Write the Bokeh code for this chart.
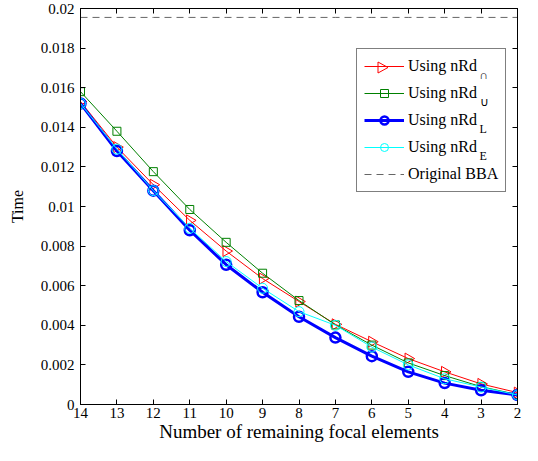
import numpy as np
from bokeh.plotting import figure
from bokeh.models import (Range1d, FixedTicker, CustomJSTickFormatter, LinearAxis,
                          Legend, LegendItem, Label, ColumnDataSource, PolyAnnotation)
from bokeh.embed import file_html
from bokeh.resources import INLINE

# ---- data ----
remaining = [14, 13, 12, 11, 10, 9, 8, 7, 6, 5, 4, 3, 2]
time_cap = [0.0153, 0.0130, 0.0111, 0.0093, 0.00775, 0.00636, 0.0052, 0.00405,
            0.00317, 0.00232, 0.00165, 0.00104, 0.0006]
time_cup = [0.0158, 0.0138, 0.01176, 0.00985, 0.00819, 0.00663, 0.00525, 0.00402,
            0.0030, 0.0021, 0.00146, 0.0009, 0.0005]
time_L = [0.0152, 0.0128, 0.0108, 0.0088, 0.00706, 0.00567, 0.00443, 0.00338,
          0.00244, 0.00165, 0.00108, 0.00072, 0.00048]
time_E = [0.0152, 0.0129, 0.0108, 0.0089, 0.00722, 0.00587, 0.00469, 0.0040,
          0.0029, 0.0020, 0.0013, 0.00088, 0.00048]
bba_time = 0.01955
x_ticks = [2, 3, 4, 5, 6, 7, 8, 9, 10, 11, 12, 13, 14]
y_ticks = [0, 0.002, 0.004, 0.006, 0.008, 0.01, 0.012, 0.014, 0.016, 0.018, 0.02]
labels = ["Using nRd", "Using nRd", "Using nRd", "Using nRd", "Original BBA"]
subs = ["\u2229", "\u222a", "L", "E"]

FONT = "Liberation Serif"

p = figure(width=522, height=445, output_backend="svg", toolbar_location=None,
           x_range=Range1d(14, 2), y_range=Range1d(0, 0.02),
           min_border_left=80, min_border_right=5, min_border_top=8,
           min_border_bottom=41)
p.xgrid.visible = False
p.ygrid.visible = False
p.outline_line_color = "black"
p.outline_line_alpha = 1.0
p.background_fill_color = "white"
p.border_fill_color = "white"

fmt = CustomJSTickFormatter(code="return String(Number(tick.toFixed(4)));")

def style_axis(ax):
    ax.major_tick_in = 5
    ax.major_tick_out = 0
    ax.minor_tick_in = 0
    ax.minor_tick_out = 0
    ax.axis_line_color = "black"
    ax.major_tick_line_color = "black"
    ax.major_label_text_font = FONT
    ax.major_label_text_font_size = "15px"
    ax.major_label_text_color = "black"
    ax.axis_label_text_font = FONT
    ax.axis_label_text_font_style = "normal"
    ax.axis_label_text_color = "black"

p.xaxis.ticker = FixedTicker(ticks=x_ticks)
p.yaxis.ticker = FixedTicker(ticks=y_ticks)
p.yaxis.formatter = fmt
style_axis(p.xaxis[0])
style_axis(p.yaxis[0])
p.xaxis.axis_label = "Number of remaining focal elements"
p.yaxis.axis_label = "Time"
p.xaxis.axis_label_text_font_size = "19px"
p.yaxis.axis_label_text_font_size = "16px"
p.xaxis.major_label_standoff = 3
p.xaxis.axis_label_standoff = 0
p.yaxis.major_label_standoff = 6
p.yaxis.axis_label_standoff = 12

empty = CustomJSTickFormatter(code="return '';")
top = LinearAxis(ticker=FixedTicker(ticks=x_ticks), formatter=empty)
right = LinearAxis(ticker=FixedTicker(ticks=y_ticks), formatter=empty)
for ax in (top, right):
    style_axis(ax)
    ax.major_label_standoff = 0
p.add_layout(top, "above")
p.add_layout(right, "right")

# ---- series ----
cap_src = ColumnDataSource(dict(x=remaining, y=time_cap,
                                ang=[-np.pi / 2] * len(remaining)))
r_cap_l = p.line("x", "y", source=cap_src, line_color="#ff0000", line_width=1)
r_cap_m = p.scatter("x", "y", source=cap_src, marker="triangle", angle="ang",
                    angle_units="rad", size=11,
                    line_color="#ff0000", fill_color=None, line_width=1)
r_cup_l = p.line(remaining, time_cup, line_color="#008000", line_width=1)
r_cup_m = p.scatter(remaining, time_cup, marker="square", size=8,
                    line_color="#008000", fill_color=None, line_width=1)
r_L_l = p.line(remaining, time_L, line_color="#0000ff", line_width=3)
r_L_m = p.scatter(remaining, time_L, marker="circle", size=10,
                  line_color="#0000ff", fill_color=None, line_width=2.5)
r_E_l = p.line(remaining, time_E, line_color="#00ffff", line_width=1)
r_E_m = p.scatter(remaining, time_E, marker="circle", size=10,
                  line_color="#00ffff", fill_color=None, line_width=1)
r_bba = p.line(remaining, [bba_time] * len(remaining), line_color="#666666",
               line_width=1, line_dash="7 5")

LEG_X, LEG_Y = 276, 212
legend = Legend(items=[
    LegendItem(label=labels[0], renderers=[r_cap_l]),
    LegendItem(label=labels[1], renderers=[r_cup_l, r_cup_m]),
    LegendItem(label=labels[2], renderers=[r_L_l, r_L_m]),
    LegendItem(label=labels[3], renderers=[r_E_l, r_E_m]),
    LegendItem(label=labels[4], renderers=[r_bba]),
], location=(LEG_X, LEG_Y))
legend.label_text_font = FONT
legend.label_text_font_size = "16px"
legend.label_text_color = "black"
legend.glyph_width = 40
legend.glyph_height = 20
legend.label_height = 20
legend.label_standoff = 4
legend.spacing = 7
legend.padding = 7
legend.margin = 0
legend.border_line_color = "black"
legend.border_line_width = 1
legend.background_fill_alpha = 0.0
legend.label_width = 60
p.add_layout(legend, "center")

legend_top = LEG_Y + 142
# right-pointing triangle symbol for the first legend entry
cx, cy = LEG_X + 26, legend_top - 17
p.add_layout(PolyAnnotation(xs=[cx - 4.5, cx - 4.5, cx + 5.5], ys=[cy + 5.5, cy - 5.5, cy],
                            xs_units="screen", ys_units="screen",
                            line_color="#ff0000", line_alpha=1.0, line_width=1,
                            fill_alpha=0.0, level="overlay"))

# subscripts for legend labels (screen units, relative to frame bottom-left)
for i, s in enumerate(subs):
    yc = legend_top - 17 - i * 27
    p.add_layout(Label(x=LEG_X + 123, y=yc - 7, x_units="screen",
                       y_units="screen", level="overlay",
                       text=s, text_font=FONT, text_font_size="12px",
                       text_color="black", text_baseline="middle", text_align="left"))

open("out.html", "w").write(file_html(p, INLINE))
